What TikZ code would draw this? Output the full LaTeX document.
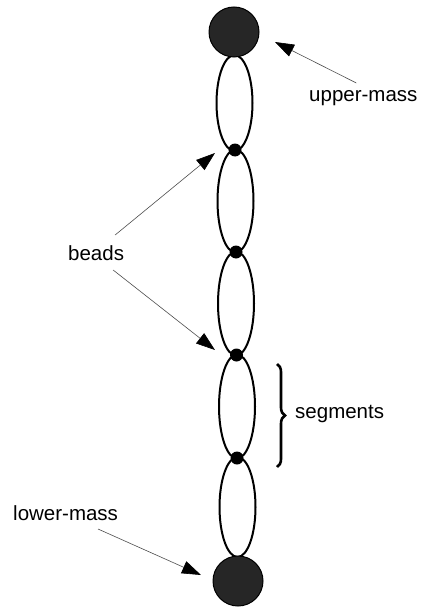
\documentclass[tikz,border=0pt]{standalone}
\usepackage{fontspec}
\newfontfamily\labfont{Liberation Sans}
\usetikzlibrary{arrows.meta,decorations.pathreplacing,shapes.geometric}
\begin{document}
\begin{tikzpicture}[x=1pt,y=-1pt,
  mass/.style={circle,fill=black!85,draw=black,line width=1pt,minimum size=50pt,inner sep=0pt},
  bead/.style={circle,fill=black,minimum size=13pt,inner sep=0pt},
  seg/.style={ellipse,draw=black,line width=2pt,minimum width=36pt,inner sep=0pt},
  lab/.style={font=\labfont\fontsize{20.5}{24}\selectfont,inner sep=0pt,anchor=base west},
  pointer/.style={draw=black!70,line width=0.6pt,-{Triangle[length=19pt,width=13pt,color=black]}},
  bracket/.style={draw=black,line width=2.6pt,decorate,decoration={brace,amplitude=8pt}}]
\useasboundingbox (0,0) rectangle (429,607);

% chain segments (drawn first, beads on top)
\node[seg,minimum height=96pt] (s1) at (234.5,103) {};
\node[seg,minimum height=103pt] (s2) at (235.5,201) {};
\node[seg,minimum height=104pt] (s3) at (236,303.5) {};
\node[seg,minimum height=104pt] (s4) at (237,406.5) {};
\node[seg,minimum height=100pt] (s5) at (237.5,507) {};

% masses and beads
\node[mass] (um) at (234,32) {};
\node[bead] (b1) at (235,150) {};
\node[bead] (b2) at (236,252) {};
\node[bead] (b3) at (236.5,355) {};
\node[bead] (b4) at (237,458) {};
\node[mass] (lm) at (238,581) {};

% labels
\node[lab] (upl) at (309,102) {upper-mass};
\node[lab] (bdl) at (68,260) {beads};
\node[lab] (sgl) at (295,418) {segments};
\node[lab] (lwl) at (13,520) {lower-mass};

% arrow tips
\coordinate (umtip) at (275,42);
\coordinate (b1tip) at (215,153);
\coordinate (b3tip) at (215,350);
\coordinate (lmtip) at (201,575);

\draw[pointer] ([xshift=-7pt,yshift=19pt]upl.base) -- (umtip);
\draw[pointer] ([xshift=19pt,yshift=25pt]bdl.base) -- (b1tip);
\draw[pointer] ([xshift=17pt,yshift=-10pt]bdl.base) -- (b3tip);
\draw[pointer] ([xshift=85pt,yshift=-9pt]lwl.base west) -- (lmtip);

% brace over one segment
\coordinate (brt) at (277,364);
\coordinate (brb) at (277,467);
\draw[bracket] (brt) -- (brb);
\end{tikzpicture}
\end{document}
